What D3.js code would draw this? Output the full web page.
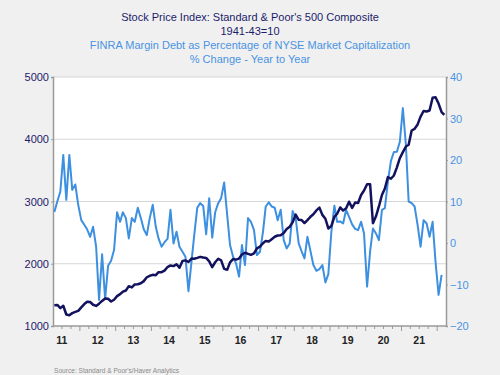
<!DOCTYPE html>
<html>
<head>
    <meta charset="UTF-8">
    <title>S&P 500 vs FINRA Margin Debt</title>
    <script src="https://cdn.jsdelivr.net/npm/d3@7"></script>
    <style>
        body { margin: 0; background: #f0f0f0; }
        svg { display: block; font-family: "Liberation Sans", Arial, sans-serif; }
    </style>
</head>
<body>
    <svg id="chart"></svg>
    <script>

        // monthly data, first month is April 2011
        const startYear = 2011, startMonth = 3;

        // S&P 500, monthly average, Apr 2011 - Mar 2022 (left axis)
        const spx = [
            1332, 1338, 1287, 1325, 1185, 1173, 1207, 1226, 1243,
            1300, 1352, 1389, 1386, 1341, 1323, 1359, 1403, 1443, 1437, 1394, 1422,
            1480, 1512, 1551, 1570, 1640, 1619, 1668, 1670, 1687, 1721, 1783, 1807,
            1822, 1817, 1864, 1864, 1890, 1947, 1973, 1962, 1993, 1937, 2044, 2054,
            2028, 2083, 2080, 2094, 2111, 2099, 2094, 2039, 1944, 2024, 2080, 2054,
            1918, 1904, 2022, 2075, 2066, 2083, 2149, 2177, 2158, 2143, 2165, 2247,
            2275, 2329, 2367, 2359, 2395, 2434, 2454, 2456, 2493, 2557, 2594, 2664,
            2790, 2705, 2703, 2654, 2702, 2754, 2794, 2857, 2901, 2785, 2723, 2567,
            2607, 2754, 2804, 2904, 2855, 2890, 2997, 2897, 2983, 2977, 3104, 3176,
            3278, 3278, 2652, 2762, 2920, 3105, 3208, 3392, 3365, 3418, 3549, 3695,
            3794, 3883, 3911, 4141, 4168, 4238, 4364, 4454, 4446, 4461, 4667, 4675,
            4573, 4436, 4392
        ];

        // FINRA margin debt % of NYSE mkt cap, % change yoy, Apr 2011 - Feb 2022 (right axis)
        const marginDebt = [
            7.5, 10, 12.4, 21.2, 10.4, 21.2, 12.8, 14.1, 9.2,
            5.5, 4.4, 3.3, 1.5, 3.9, -0.9, -13.7, -2.7, -13.5, -5.5, -4.3, -1.7,
            7.4, 5.1, 7.4, 6.0, 1.1, 6.0, 5.1, 8.5, 6.0, 3.3, 1.9, 6.0,
            9.2, 3.9, 1.1, -0.9, 0.2, 1.0, 8.0, -0.1, 2.7, -0.9, -2.1, -3.3,
            -11.6, -4.5, 1.9, 8.5, 9.6, 8.9, 2.1, 10.8, 1.3, 7.4, 9.6, 10.8,
            14.6, 6.7, -0.5, -3.3, -4.9, -8.1, -0.5, -5.3, 6.0, 5.1, 3.1, -2.9,
            -2.1, 2.7, 8.8, 9.8, 8.8, 8.5, 5.5, 8.0, 0.7, -1.3, -0.1, 7.7,
            6.0, -0.1, -1.9, -3.7, 1.5, -1.9, -5.3, -6.7, -6.3, -5.3, -9.5, -7.5,
            2.7, 9.0, 5.1, 5.2, 4.7, 8.0, 6.3, 4.5, 3.4, 3.1, 5.1, 2.3,
            -10.5, -2.1, 3.5, 2.3, 0.7, 8.0, 8.4, 14.8, 19.8, 21.9, 22.0, 24.4,
            32.5, 23.6, 10.0, 9.6, 8.8, 4.3, -0.9, 5.5, 4.7, 1.5, 5.1, -4.5,
            -12.5, -7.7
        ];

        const years = [2011, 2012, 2013, 2014, 2015, 2016, 2017, 2018, 2019, 2020, 2021];
        const leftTicks = [1000, 2000, 3000, 4000, 5000];
        const rightTicks = [-20, -10, 0, 10, 20, 30, 40];

        const titleLines = [
            "Stock Price Index: Standard & Poor's 500 Composite",
            "1941-43=10"
        ];
        const subtitleLines = [
            "FINRA Margin Debt as Percentage of NYSE Market Capitalization",
            "% Change - Year to Year"
        ];

        const width = 500, height = 375;
        const margin = {top: 77, right: 54, bottom: 49, left: 53};
        const navy = "#12125e", blue = "#3d8fe0";

        const svg = d3.select("#chart")
            .attr("width", width)
            .attr("height", height);

        svg.append("rect")
            .attr("width", width).attr("height", height)
            .attr("fill", "#f0f0f0");

        const x = d3.scaleTime()
            .domain([new Date(2011, 3, 1), new Date(2022, 3, 1)])
            .range([margin.left, width - margin.right]);
        const yL = d3.scaleLinear()
            .domain([1000, 5000])
            .range([height - margin.bottom, margin.top]);
        const yR = d3.scaleLinear()
            .domain([-20, 40])
            .range([height - margin.bottom, margin.top]);

        const monthDate = i => new Date(startYear, startMonth + i, 15);

        // plot area
        svg.append("rect")
            .attr("x", margin.left).attr("y", margin.top)
            .attr("width", width - margin.left - margin.right)
            .attr("height", height - margin.top - margin.bottom)
            .attr("fill", "white");

        // gridlines
        svg.append("g")
            .selectAll("line")
            .data(leftTicks.slice(1))
            .join("line")
            .attr("x1", margin.left).attr("x2", width - margin.right)
            .attr("y1", d => yL(d)).attr("y2", d => yL(d))
            .attr("stroke", "#d6d6d6")
            .attr("stroke-width", 1.2);

        // titles
        svg.append("g")
            .selectAll("text")
            .data(titleLines)
            .join("text")
            .attr("x", width / 2)
            .attr("y", (d, i) => 21 + i * 14)
            .attr("text-anchor", "middle")
            .attr("fill", "#1c1c6b")
            .style("font-size", "11px")
            .text(d => d);
        svg.append("g")
            .selectAll("text")
            .data(subtitleLines)
            .join("text")
            .attr("x", width / 2)
            .attr("y", (d, i) => 49 + i * 13.5)
            .attr("text-anchor", "middle")
            .attr("fill", "#4a93e3")
            .style("font-size", "11px")
            .text(d => d);

        // left axis
        const axL = svg.append("g")
            .attr("transform", `translate(${margin.left},0)`)
            .call(d3.axisLeft(yL).tickValues(leftTicks).tickSize(2).tickPadding(2).tickFormat(d3.format("d")));
        axL.select(".domain").attr("stroke", "#9a9a9a").attr("stroke-width", 1.5);
        axL.selectAll(".tick line").attr("stroke", "#9a9a9a");
        axL.selectAll("text")
            .attr("fill", "#1c1c6b")
            .style("font-size", "11px")
            .style("font-family", "Liberation Sans, Arial, sans-serif");

        // right axis
        const axR = svg.append("g")
            .attr("transform", `translate(${width - margin.right},0)`)
            .call(d3.axisRight(yR).tickValues(rightTicks).tickSize(2).tickPadding(2));
        axR.select(".domain").attr("stroke", "#9a9a9a").attr("stroke-width", 1.5);
        axR.selectAll(".tick line").attr("stroke", "#9a9a9a");
        axR.selectAll("text")
            .attr("fill", "#4a93e3")
            .style("font-size", "11px")
            .style("font-family", "Liberation Sans, Arial, sans-serif");

        // bottom axis: quarterly minor ticks, yearly major ticks, labels mid-year
        const xAxisG = svg.append("g")
            .attr("transform", `translate(0,${height - margin.bottom})`);
        xAxisG.append("line")
            .attr("x1", margin.left).attr("x2", width - margin.right)
            .attr("stroke", "#9a9a9a").attr("stroke-width", 1.5);
        const quarters = d3.timeMonth.every(3).range(new Date(2011, 6, 1), new Date(2022, 3, 1));
        xAxisG.selectAll(".q")
            .data(quarters)
            .join("line")
            .attr("class", "q")
            .attr("x1", d => x(d)).attr("x2", d => x(d))
            .attr("y1", 0)
            .attr("y2", d => d.getMonth() === 0 ? 5 : 3)
            .attr("stroke", "#9a9a9a");
        xAxisG.selectAll(".yl")
            .data(years)
            .join("text")
            .attr("class", "yl")
            .attr("x", d => x(new Date(d, 6, 1)))
            .attr("y", 18)
            .attr("text-anchor", "middle")
            .attr("fill", "#222")
            .style("font-size", "10.5px")
            .style("font-weight", "bold")
            .text(d => String(d).slice(2));

        // series
        const lineR = d3.line()
            .x((d, i) => x(monthDate(i)))
            .y(d => yR(d));
        const lineL = d3.line()
            .x((d, i) => x(monthDate(i)))
            .y(d => yL(d));

        svg.append("path")
            .datum(marginDebt)
            .attr("d", lineR)
            .attr("fill", "none")
            .attr("stroke", blue)
            .attr("stroke-width", 2)
            .attr("stroke-linejoin", "round");

        svg.append("path")
            .datum(spx)
            .attr("d", lineL)
            .attr("fill", "none")
            .attr("stroke", navy)
            .attr("stroke-width", 2.5)
            .attr("stroke-linejoin", "round");

        // source note
        svg.append("text")
            .attr("x", 54)
            .attr("y", 373)
            .attr("fill", "#8a8a8a")
            .style("font-size", "6.6px")
            .text("Source:  Standard & Poor's/Haver Analytics");

    </script>
</body>
</html>
